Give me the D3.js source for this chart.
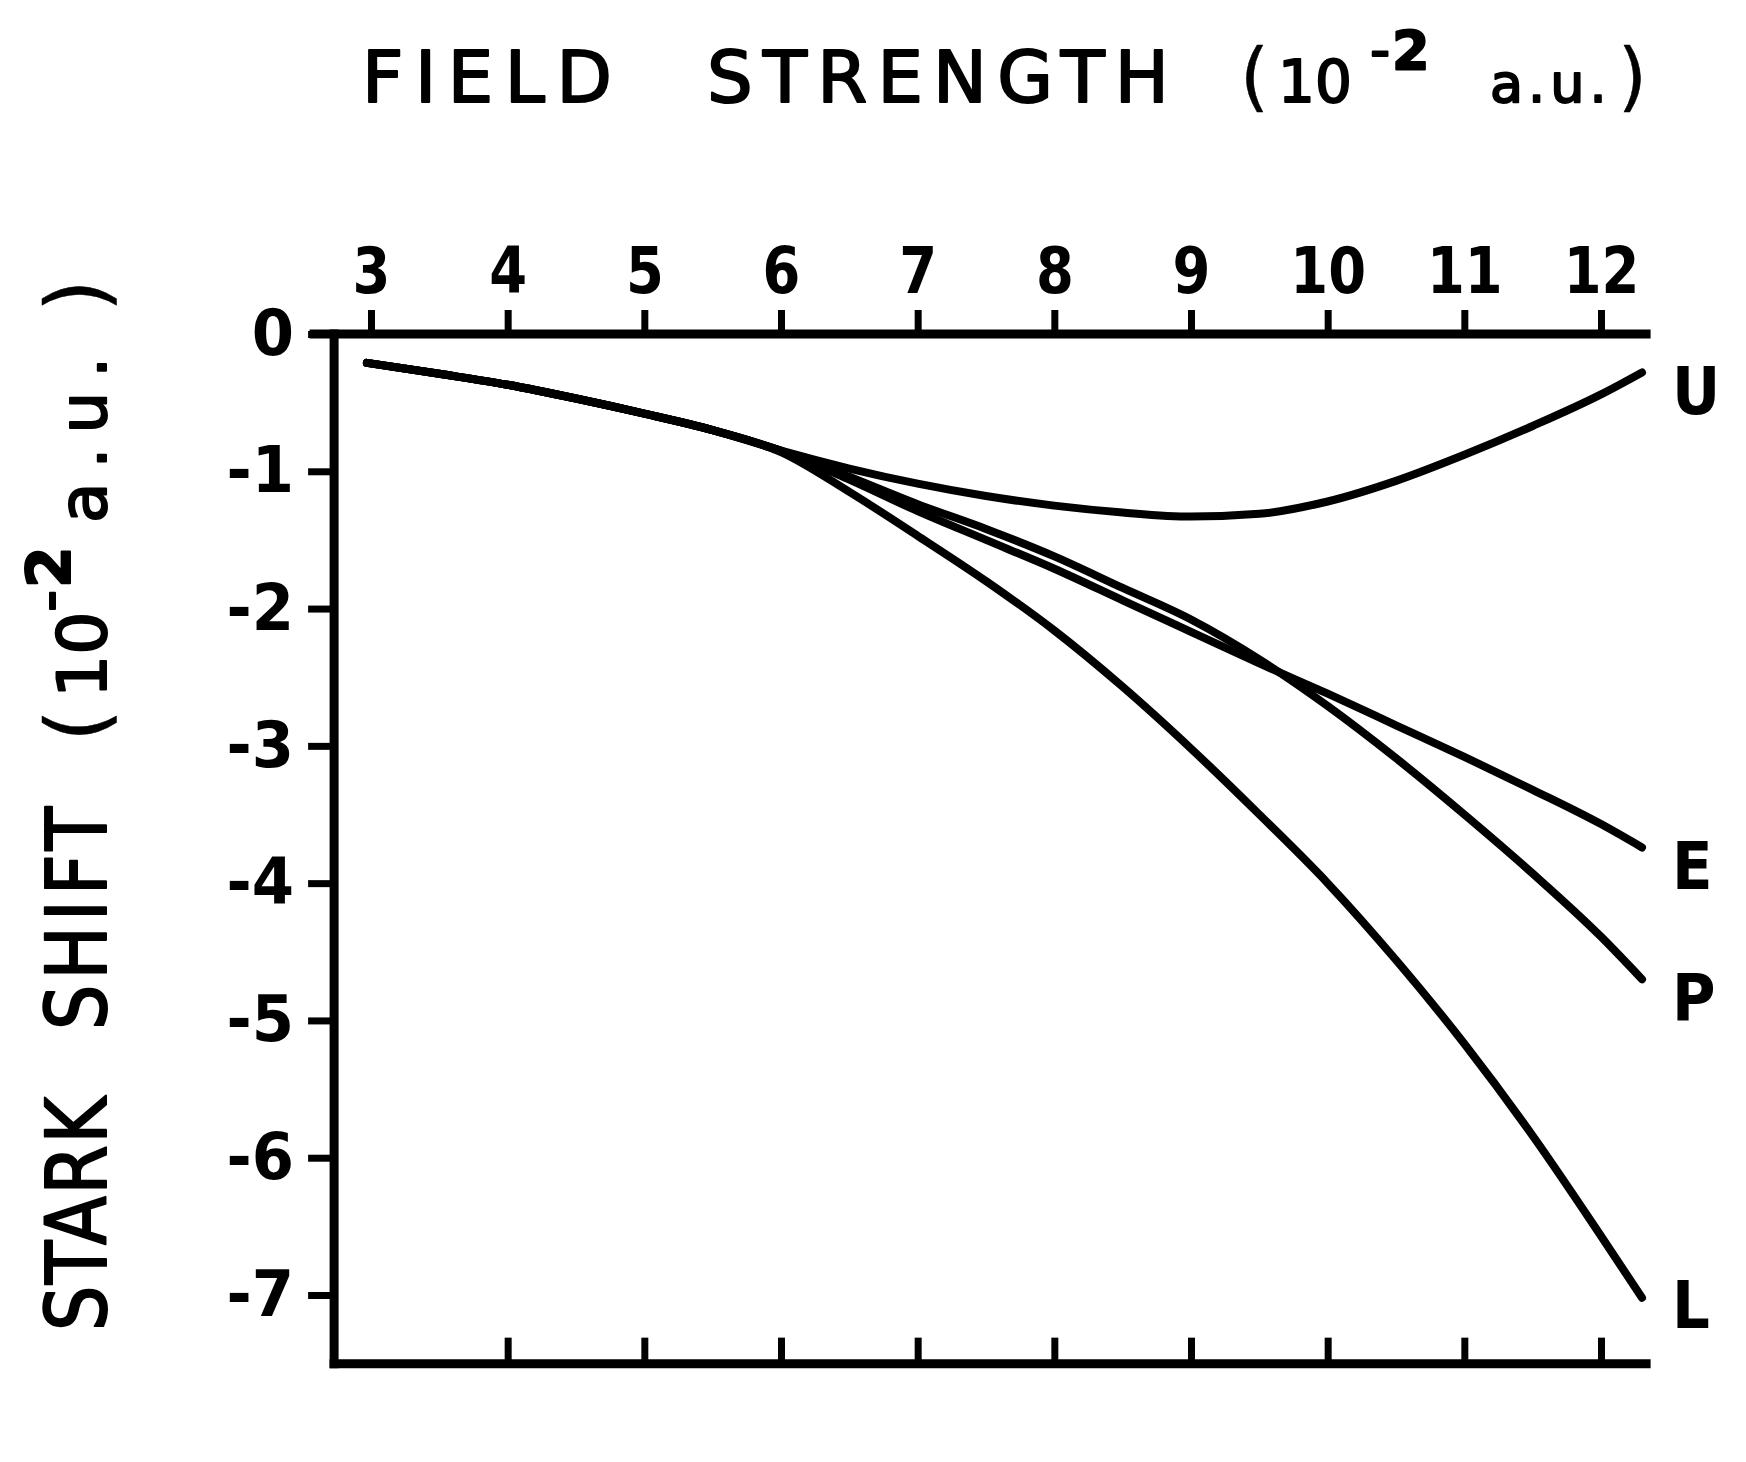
<!DOCTYPE html>
<html>
<head>
<meta charset="utf-8">
<script src="https://cdn.jsdelivr.net/npm/d3@7"></script>
<style>
  html, body { margin: 0; padding: 0; background: #fff; }
  svg { display: block; }
  text { font-family: "DejaVu Sans", "Liberation Sans", sans-serif; fill: #000; }
</style>
</head>
<body>
<svg id="chart" width="1746" height="1462"></svg>
<script>
// ---- data ----
const xTicks = [3, 4, 5, 6, 7, 8, 9, 10, 11, 12];
const bottomTicks = [4, 5, 6, 7, 8, 9, 10, 11, 12];
const yTicks = [0, -1, -2, -3, -4, -5, -6, -7];
const field = [2.97, 3.5, 4, 4.5, 5, 5.5, 6, 6.5, 7, 7.5, 8, 8.5, 9, 9.5, 10, 10.5, 11, 11.5, 12, 12.3];
const shiftU = [-0.21, -0.29, -0.37, -0.47, -0.58, -0.70, -0.85, -0.98, -1.09, -1.18, -1.25, -1.30, -1.33, -1.31, -1.22, -1.07, -0.88, -0.67, -0.44, -0.28];
const shiftP = [-0.21, -0.29, -0.37, -0.47, -0.58, -0.70, -0.85, -1.04, -1.24, -1.42, -1.62, -1.85, -2.08, -2.37, -2.71, -3.09, -3.50, -3.93, -4.39, -4.70];
const shiftE = [-0.21, -0.29, -0.37, -0.47, -0.58, -0.70, -0.85, -1.06, -1.29, -1.50, -1.71, -1.94, -2.17, -2.40, -2.62, -2.85, -3.08, -3.32, -3.57, -3.74];
const shiftL = [-0.21, -0.29, -0.37, -0.47, -0.58, -0.70, -0.86, -1.15, -1.47, -1.80, -2.16, -2.57, -3.02, -3.50, -4.00, -4.56, -5.17, -5.84, -6.57, -7.02];
const seriesNames = ["U", "E", "P", "L"];
const seriesValues = [shiftU, shiftE, shiftP, shiftL];

// ---- layout ----
const svg = d3.select("#chart");
svg.append("rect").attr("width", 1746).attr("height", 1462).attr("fill", "#fff");

const x = d3.scaleLinear().domain([3, 12]).range([371, 1601]);
const y = d3.scaleLinear().domain([0, -7]).range([334, 1295]);
const xLeft = 2.73, xRight = 12.33, yBottom = -7.5;
const axisW = 9;
const SX = 0.85; // narrow lettering for tick labels

// top axis
const gTop = svg.append("g").attr("transform", `translate(0,${y(0)})`)
  .call(d3.axisTop(x).tickValues(xTicks).tickSizeInner(24).tickSizeOuter(0).tickPadding(17)
        .tickFormat(d3.format("d")));
gTop.select(".domain").remove();
gTop.selectAll(".tick line").attr("stroke", "#000").attr("stroke-width", 7);
gTop.selectAll(".tick text").attr("font-size", 64).attr("font-weight", "bold")
  .attr("transform", `scale(${SX},1)`).attr("fill", "#000");

// left axis
const leftTick = 26, leftPad = 14;
const gLeft = svg.append("g").attr("transform", `translate(${x(xLeft)},0)`)
  .call(d3.axisLeft(y).tickValues(yTicks).tickSizeInner(leftTick).tickSizeOuter(0).tickPadding(leftPad)
        .tickFormat(d => d === 0 ? "0" : "-" + Math.abs(d)));
gLeft.select(".domain").remove();
gLeft.selectAll(".tick line").attr("stroke", "#000").attr("stroke-width", 7);
gLeft.selectAll(".tick text").attr("font-size", 64).attr("font-weight", "bold")
  .attr("transform", "scale(0.95,1)").attr("x", -(leftTick + leftPad) / 0.95)
  .attr("fill", "#000");

// bottom axis (ticks point up into the plot)
const gBot = svg.append("g").attr("transform", `translate(0,${y(yBottom)})`)
  .call(d3.axisTop(x).tickValues(bottomTicks).tickSizeInner(26).tickSizeOuter(0).tickFormat(""));
gBot.select(".domain").remove();
gBot.selectAll(".tick line").attr("stroke", "#000").attr("stroke-width", 7);

// frame lines
const frame = svg.append("g").attr("stroke", "#000").attr("stroke-width", axisW).attr("stroke-linecap", "square");
frame.append("line").attr("x1", x(xLeft) - 20).attr("x2", x(xRight)).attr("y1", y(0)).attr("y2", y(0));
frame.append("line").attr("x1", x(xLeft)).attr("x2", x(xLeft)).attr("y1", y(0)).attr("y2", y(yBottom));
frame.append("line").attr("x1", x(xLeft)).attr("x2", x(xRight)).attr("y1", y(yBottom)).attr("y2", y(yBottom));

// curves
const line = d3.line().x((d, i) => x(field[i])).y(d => y(d)).curve(d3.curveMonotoneX);
svg.append("g").selectAll("path").data(seriesValues).join("path")
  .attr("d", d => line(d))
  .attr("fill", "none").attr("stroke", "#000").attr("stroke-width", 8)
  .attr("stroke-linecap", "round").attr("stroke-linejoin", "round");

// curve labels
svg.append("g").selectAll("text").data(seriesNames).join("text")
  .attr("transform", (d, i) => `translate(1672,${y(seriesValues[i][seriesValues[i].length - 1]) + (d === "L" ? 30 : 42)}) scale(0.9,1)`)
  .attr("font-size", 66).attr("font-weight", "bold")
  .text(d => d);

// ---- titles ----
function word(g, tx, ty, rot, str, size, len, sx) {
  return g.append("text")
    .attr("transform", `translate(${tx},${ty})${rot ? " rotate(-90)" : ""} scale(${sx},1)`)
    .attr("font-size", size).attr("textLength", len / sx).attr("lengthAdjust", "spacing")
    .text(str);
}
const thick = g => g.attr("stroke", "#000").attr("stroke-width", 2).attr("stroke-linejoin", "round");

// top title
const title = svg.append("g").call(thick);
word(title, 362, 102, false, "FIELD", 72, 250, 1);
word(title, 707, 102, false, "STRENGTH", 72, 462, 1);
const tu = title.append("text").attr("transform", "translate(0,102)");
tu.append("tspan").attr("x", 1240).attr("font-size", 74).attr("stroke-width", 0.5).text("(");
tu.append("tspan").attr("x", 1278).attr("font-size", 58).text("10");
tu.append("tspan").attr("x", 1370).attr("dy", -33).attr("font-size", 56).text("-");
tu.append("tspan").attr("x", 1392).attr("font-size", 54).attr("font-weight", "bold").text("2");
tu.append("tspan").attr("x", 1490).attr("dy", 33).attr("font-size", 54).attr("letter-spacing", 5).text("a.u.");
tu.append("tspan").attr("x", 1618).attr("font-size", 74).attr("stroke-width", 0.5).text(")");

// y title (rotated; text x runs upward from the bottom of the page)
const yt = svg.append("g").call(thick);
word(yt, 106, 1331, true, "STARK", 84, 234, 0.85);
word(yt, 106, 1030, true, "SHIFT", 84, 223, 0.85);
const yu = yt.append("text").attr("transform", "translate(106,0) rotate(-90)");
yu.append("tspan").attr("x", -742).attr("font-size", 84).attr("stroke-width", 0.5).text("(");
yu.append("tspan").attr("x", -698).attr("font-size", 68).text("10");
yu.append("tspan").attr("x", -612).attr("dy", -36).attr("font-size", 62).text("-");
yu.append("tspan").attr("x", -588).attr("font-size", 60).attr("font-weight", "bold").text("2");
yu.append("tspan").attr("x", -523).attr("dy", 36).attr("font-size", 66).attr("letter-spacing", 14).text("a.u.");
yu.append("tspan").attr("x", -312).attr("font-size", 84).attr("stroke-width", 0.5).text(")");
</script>
</body>
</html>
